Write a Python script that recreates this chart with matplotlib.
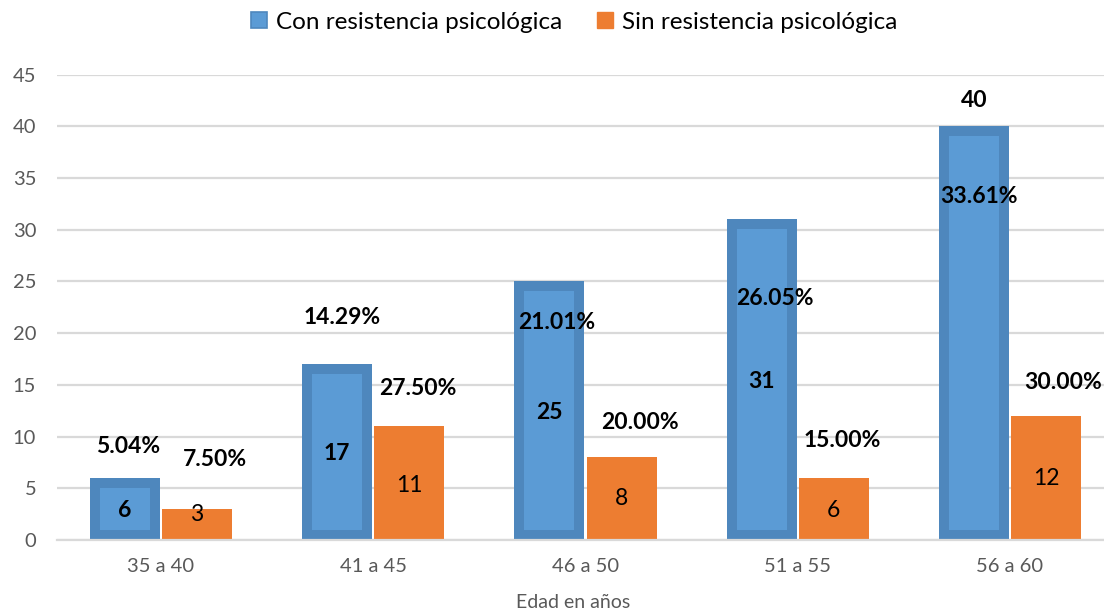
import matplotlib
matplotlib.use("Agg")
import matplotlib.pyplot as plt
from matplotlib.lines import Line2D
import numpy as np

# data
categories = ["35 a 40", "41 a 45", "46 a 50", "51 a 55", "56 a 60"]
con_values = [6, 17, 25, 31, 40]
sin_values = [3, 11, 8, 6, 12]
con_pct = ["5.04%", "14.29%", "21.01%", "26.05%", "33.61%"]
sin_pct = ["7.50%", "27.50%", "20.00%", "15.00%", "30.00%"]

# label placement (as in the source chart, labels were moved by hand)
con_pct_y = [9.0, 21.5, 21.0, 23.3, 33.2]
con_pct_dx = [0.015, 0.025, 0.035, 0.06, 0.025]
con_val_y = [2.9, 8.4, 12.3, 15.3, 42.5]
sin_pct_y = [7.8, 14.6, 11.4, 9.6, 15.2]
sin_pct_dx = [0.085, 0.04, 0.085, 0.04, 0.08]
sin_val_y = [2.5, 5.3, 4.0, 2.9, 5.9]

BLUE_DARK = "#4E87BD"
BLUE = "#5B9BD5"
ORANGE = "#ED7D31"
GRAY = "#595959"
GRID = "#D9D9D9"

plt.rcParams["font.family"] = ["Lato", "DejaVu Sans"]

fig = plt.figure(figsize=(11.04, 6.13), dpi=100)
ax = fig.add_axes([57 / 1104, 1 - 540 / 613, 1 - 57 / 1104, (540 - 74.5) / 613])

x = np.arange(len(categories))
w = 0.33
off = 0.17
inset_x = 0.047
inset_y = 0.95
lab_fs = 16.5

# blue bars: darker bevel frame + lighter core
ax.bar(x - off, con_values, width=w, color=BLUE_DARK, zorder=3)
core = np.array(con_values) - 2 * inset_y
ax.bar(x - off, core, width=w - 2 * inset_x, bottom=inset_y, color=BLUE, zorder=4)
ax.bar(x + off, sin_values, width=w, color=ORANGE, zorder=3)

for i in range(len(categories)):
    ax.text(x[i] - off + con_pct_dx[i], con_pct_y[i], con_pct[i], ha="center", va="center",
            fontsize=lab_fs, fontweight="bold", color="black", zorder=5)
    ax.text(x[i] - off, con_val_y[i], str(con_values[i]), ha="center", va="center",
            fontsize=lab_fs, fontweight="bold", color="black", zorder=5)
    ax.text(x[i] + off + sin_pct_dx[i], sin_pct_y[i], sin_pct[i], ha="center", va="center",
            fontsize=lab_fs, fontweight="bold", color="black", zorder=5)
    ax.text(x[i] + off, sin_val_y[i], str(sin_values[i]), ha="center", va="center",
            fontsize=lab_fs, color="black", zorder=5)

ax.set_xlim(-0.49, 4.443)
ax.set_ylim(0, 45)
ax.set_yticks(range(0, 46, 5))
ax.set_xticks(x)
ax.set_xticklabels(categories)
ax.tick_params(axis="both", length=0, labelsize=14.5, colors=GRAY)
ax.tick_params(axis="x", pad=13)
ax.tick_params(axis="y", pad=15)
ax.grid(axis="y", color=GRID, linewidth=1.6, zorder=0)
for s in ["top", "right", "left"]:
    ax.spines[s].set_visible(False)
ax.spines["bottom"].set_color(GRID)
ax.spines["bottom"].set_linewidth(1.6)
ax.spines["bottom"].set_zorder(6)

fig.text(573 / 1104, 1 - 603 / 613, "Edad en años", ha="center", va="center",
         fontsize=14, color=GRAY)

handles = [
    Line2D([], [], marker="s", linestyle="none", markersize=11, color=BLUE_DARK,
           markerfacecolor=BLUE, markeredgewidth=1.2),
    Line2D([], [], marker="s", linestyle="none", markersize=11, color=ORANGE),
]
fig.legend(handles, ["Con resistencia psicológica", "Sin resistencia psicológica"],
           loc="center", bbox_to_anchor=(574 / 1104, 1 - 22 / 613), ncol=2, frameon=False,
           fontsize=17.5, handlelength=0.7, handletextpad=0.35, columnspacing=1.4,
           labelcolor="black")

fig.savefig("out.png", dpi=100)
